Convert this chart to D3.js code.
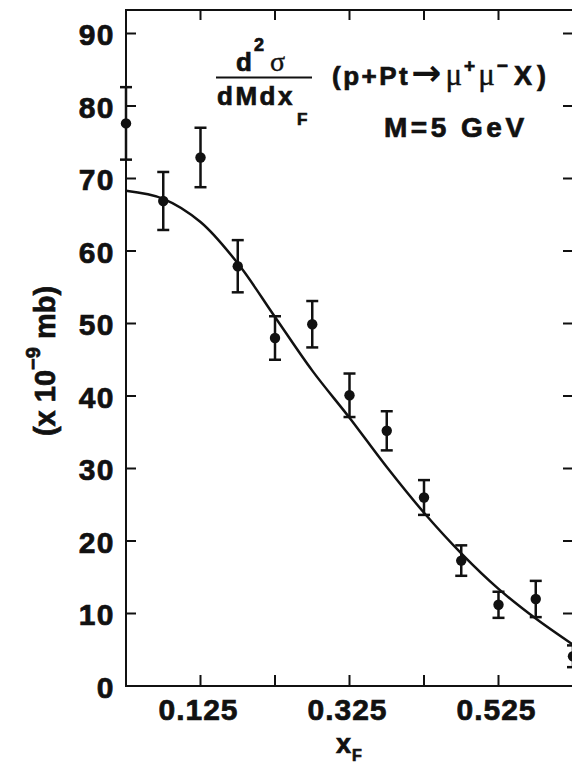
<!DOCTYPE html>
<html>
<head>
<meta charset="utf-8">
<script src="https://d3js.org/d3.v7.min.js"></script>
<style>
  body { margin: 0; background: #fff; }
  svg { display: block; }
  text { font-family: "Liberation Sans", Arial, sans-serif; font-weight: bold; fill: #111; stroke: #111; stroke-width: 0.7px; }
  .greek { font-family: "Liberation Serif", "DejaVu Serif", serif; font-weight: normal; stroke-width: 0.4px; }
</style>
</head>
<body>
<div id="chart"></div>
<script>
const width = 572;
const height = 765;

// measured points, x_F and d2sigma/dMdxF (x 10^-9 mb)
const xF = [0.025, 0.075, 0.125, 0.175, 0.225, 0.275, 0.325, 0.375, 0.425, 0.475, 0.525, 0.575, 0.625];
const sigma = [77.6, 66.9, 72.9, 57.9, 48.0, 49.9, 40.1, 35.2, 26.0, 17.3, 11.2, 12.0, 4.1];
const sigmaErr = [5.0, 4.0, 4.1, 3.6, 3.0, 3.2, 3.0, 2.7, 2.4, 2.1, 1.8, 2.5, 1.5];

// fitted curve
const fitX = [0.025, 0.075, 0.125, 0.175, 0.225, 0.275, 0.325, 0.375, 0.425, 0.475, 0.525, 0.575, 0.625];
const fitY = [68.3, 67.2, 64.0, 58.3, 50.9, 43.5, 37.0, 30.2, 23.9, 18.3, 13.4, 9.3, 5.7];

const yTicks = [0, 10, 20, 30, 40, 50, 60, 70, 80, 90];
const xTicks = [0.125, 0.225, 0.325, 0.425, 0.525];
const xTickLabels = [0.125, 0.325, 0.525];

const svg = d3.select("#chart")
    .append("svg")
    .attr("width", width)
    .attr("height", height);

const xScale = d3.scaleLinear()
    .domain([0.025, 0.625])
    .range([126, 573]);

const yScale = d3.scaleLinear()
    .domain([0, 90])
    .range([686, 33.5]);

const topY = 10;

// frame
svg.append("path")
    .attr("d", `M${xScale(0.625)},${topY} H${xScale(0.025)} V${yScale(0)} H${xScale(0.625)}`)
    .attr("fill", "none")
    .attr("stroke", "#111")
    .attr("stroke-width", 2);

// inward ticks
const tickLen = 10;
svg.selectAll(".ytick-l")
    .data(yTicks.slice(1))
    .enter().append("line")
    .attr("x1", xScale(0.025)).attr("x2", xScale(0.025) + tickLen)
    .attr("y1", d => yScale(d)).attr("y2", d => yScale(d))
    .attr("stroke", "#111").attr("stroke-width", 2);

svg.selectAll(".ytick-r")
    .data(yTicks.slice(1))
    .enter().append("line")
    .attr("x1", xScale(0.625)).attr("x2", xScale(0.625) - tickLen)
    .attr("y1", d => yScale(d)).attr("y2", d => yScale(d))
    .attr("stroke", "#111").attr("stroke-width", 2);

svg.selectAll(".xtick-b")
    .data(xTicks)
    .enter().append("line")
    .attr("x1", d => xScale(d)).attr("x2", d => xScale(d))
    .attr("y1", yScale(0)).attr("y2", yScale(0) - tickLen - 1)
    .attr("stroke", "#111").attr("stroke-width", 2);

svg.selectAll(".xtick-t")
    .data(xTicks)
    .enter().append("line")
    .attr("x1", d => xScale(d)).attr("x2", d => xScale(d))
    .attr("y1", topY).attr("y2", topY + tickLen)
    .attr("stroke", "#111").attr("stroke-width", 2);

// tick labels
svg.selectAll(".ylab")
    .data(yTicks)
    .enter().append("text")
    .attr("x", 115)
    .attr("y", d => yScale(d) + 11.5)
    .attr("text-anchor", "end")
    .style("font-size", "30px")
    .style("letter-spacing", "1.5px")
    .text(d => d);

svg.selectAll(".xlab")
    .data(xTickLabels)
    .enter().append("text")
    .attr("x", d => xScale(d) - 2)
    .attr("y", 720)
    .attr("text-anchor", "middle")
    .style("font-size", "30px")
    .style("letter-spacing", "1px")
    .text(d => d3.format(".3f")(d));

// axis titles
const xt = svg.append("text")
    .attr("x", 336)
    .attr("y", 753)
    .style("font-size", "27px");
xt.append("tspan").text("x");
xt.append("tspan").attr("dy", 8).attr("dx", 1).style("font-size", "16px").text("F");

const yt = svg.append("text")
    .attr("transform", "translate(55,361) rotate(-90)")
    .attr("text-anchor", "middle")
    .style("font-size", "29px");
yt.append("tspan").text("(x 10");
yt.append("tspan").attr("dy", -15).style("font-size", "20px").text("−9");
yt.append("tspan").attr("dy", 15).text(" mb)");

// fitted curve
const line = d3.line()
    .x(d => xScale(d[0]))
    .y(d => yScale(d[1]))
    .curve(d3.curveCatmullRom);

svg.append("path")
    .datum(d3.zip(fitX, fitY))
    .attr("d", line)
    .attr("fill", "none")
    .attr("stroke", "#111")
    .attr("stroke-width", 2.5);

// error bars and points
const pts = d3.range(xF.length).map(i => ({ x: xF[i], y: sigma[i], e: sigmaErr[i] }));
const capW = 6;

const g = svg.append("g").attr("stroke", "#111").attr("stroke-width", 2.5);
g.selectAll(".bar")
    .data(pts)
    .enter().append("line")
    .attr("x1", d => xScale(d.x)).attr("x2", d => xScale(d.x))
    .attr("y1", d => yScale(d.y - d.e)).attr("y2", d => yScale(d.y + d.e));
g.selectAll(".capT")
    .data(pts)
    .enter().append("line")
    .attr("x1", d => xScale(d.x) - capW).attr("x2", d => xScale(d.x) + capW)
    .attr("y1", d => yScale(d.y + d.e)).attr("y2", d => yScale(d.y + d.e));
g.selectAll(".capB")
    .data(pts)
    .enter().append("line")
    .attr("x1", d => xScale(d.x) - capW).attr("x2", d => xScale(d.x) + capW)
    .attr("y1", d => yScale(d.y - d.e)).attr("y2", d => yScale(d.y - d.e));

svg.selectAll(".dot")
    .data(pts)
    .enter().append("circle")
    .attr("cx", d => xScale(d.x))
    .attr("cy", d => yScale(d.y))
    .attr("r", 5.2)
    .attr("fill", "#111");

// formula
const num = svg.append("text")
    .attr("x", 236)
    .attr("y", 71)
    .style("font-size", "26px");
num.append("tspan").text("d");
num.append("tspan").attr("dy", -20).attr("dx", 2).style("font-size", "18px").text("2");
num.append("tspan").attr("dy", 20).attr("dx", 6).attr("class", "greek").style("font-size", "28px").text("σ");

svg.append("line")
    .attr("x1", 216).attr("x2", 312)
    .attr("y1", 77.5).attr("y2", 77.5)
    .attr("stroke", "#111").attr("stroke-width", 2);

const den = svg.append("text")
    .attr("x", 217)
    .attr("y", 105)
    .style("font-size", "26px");
den.append("tspan").style("letter-spacing", "2.5px").text("dMdx");
den.append("tspan").attr("dy", 20).attr("dx", 2).style("font-size", "17px").text("F");

const reac = svg.append("text")
    .attr("x", 332)
    .attr("y", 85)
    .style("font-size", "26px");
reac.append("tspan").style("letter-spacing", "2.5px").text("(p+Pt");
reac.append("tspan").attr("dx", 1).style("font-family", "DejaVu Sans").style("font-size", "36px").style("stroke-width", "0").text("→");
reac.append("tspan").attr("dx", 4).attr("class", "greek").style("font-size", "31px").text("μ");
reac.append("tspan").attr("dy", -13).attr("dx", 2).style("font-size", "19px").text("+");
reac.append("tspan").attr("dy", 13).attr("dx", 3).attr("class", "greek").style("font-size", "31px").text("μ");
reac.append("tspan").attr("dy", -13).attr("dx", 2).style("font-size", "19px").text("−");
reac.append("tspan").attr("dy", 13).attr("dx", 6).style("letter-spacing", "5px").style("font-size", "27px").text("X)");

svg.append("text")
    .attr("x", 384)
    .attr("y", 137)
    .style("font-size", "28px")
    .style("letter-spacing", "3.5px")
    .text("M=5 GeV");
</script>
</body>
</html>
